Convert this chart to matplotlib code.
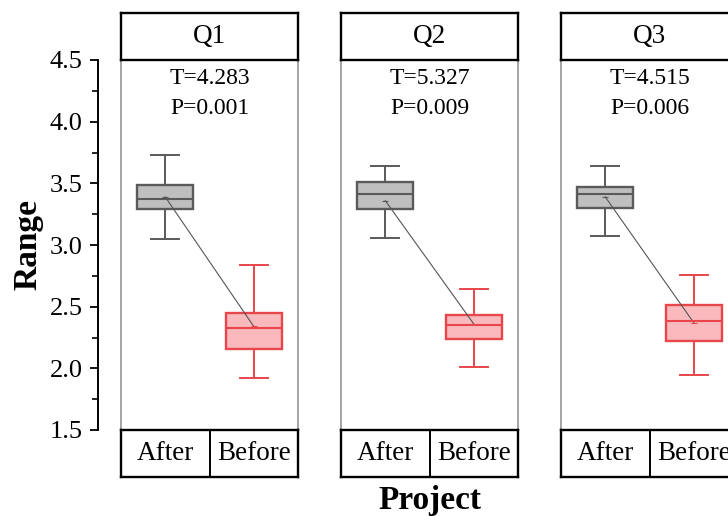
import matplotlib
matplotlib.use("Agg")
import matplotlib.pyplot as plt
from matplotlib.patches import Rectangle
from matplotlib.ticker import MultipleLocator

plt.rcParams['font.family'] = ['Liberation Serif', 'DejaVu Serif']

# data
panels = ["Q1", "Q2", "Q3"]
groups = ["After", "Before"]
t_vals = ["4.283", "5.327", "4.515"]
p_vals = ["0.001", "0.009", "0.006"]

after_lo = [3.05, 3.06, 3.07]
after_q1 = [3.29, 3.29, 3.30]
after_med = [3.37, 3.41, 3.41]
after_q3 = [3.49, 3.51, 3.47]
after_hi = [3.73, 3.64, 3.64]
after_mean = [3.39, 3.36, 3.39]

before_lo = [1.92, 2.01, 1.95]
before_q1 = [2.16, 2.24, 2.22]
before_med = [2.33, 2.35, 2.38]
before_q3 = [2.45, 2.43, 2.51]
before_hi = [2.84, 2.64, 2.76]
before_mean = [2.34, 2.36, 2.37]

W, H = 728, 516
fig = plt.figure(figsize=(W / 100, H / 100), dpi=100)

def fx(px):
    return px / W

def fy(px):
    # pixel from top -> figure fraction from bottom
    return 1 - px / H

grey_edge = "#5a5a5a"
grey_fill = "#bfbfbf"
red_edge = "#e8464b"
red_fill = "#f9b9bd"

for i, name in enumerate(panels):
    left = 121 + 220 * i
    width = 177
    ax = fig.add_axes([fx(left), fy(430), fx(width), (430 - 60) / H])
    ax.set_xlim(-0.5, 1.5)
    ax.set_ylim(1.5, 4.5)
    for s in ax.spines.values():
        s.set_visible(False)
    ax.set_xticks([])
    ax.tick_params(axis='y', left=False, labelleft=False)
    ax.add_patch(Rectangle((0, 0), 1, 1, transform=ax.transAxes, fill=False,
                           edgecolor="#8c8c8c", lw=1.1, clip_on=False))

    stats = [
        dict(whislo=after_lo[i], q1=after_q1[i], med=after_med[i], q3=after_q3[i],
             whishi=after_hi[i], mean=after_mean[i], fliers=[]),
        dict(whislo=before_lo[i], q1=before_q1[i], med=before_med[i], q3=before_q3[i],
             whishi=before_hi[i], mean=before_mean[i], fliers=[]),
    ]
    for j, (st, ec, fc) in enumerate(zip(stats, [grey_edge, red_edge], [grey_fill, red_fill])):
        ax.bxp([st], positions=[j], widths=0.63, patch_artist=True, showmeans=True,
               boxprops=dict(facecolor=fc, edgecolor=ec, lw=1.7),
               medianprops=dict(color=ec, lw=1.5),
               whiskerprops=dict(color=ec, lw=1.4),
               capprops=dict(color=ec, lw=1.4),
               capwidths=0.32,
               meanprops=dict(marker='_', markersize=4, markeredgecolor=ec, markeredgewidth=0.8))
    ax.plot([0, 1], [after_mean[i], before_mean[i]], color="#555555", lw=0.8)

    ax.text(0.5, 0.951, "T=" + t_vals[i], transform=ax.transAxes, ha='center', va='center',
            fontsize=17)
    ax.text(0.5, 0.870, "P=" + p_vals[i], transform=ax.transAxes, ha='center', va='center',
            fontsize=17)

    # header box
    hx = fig.add_axes([fx(left), fy(60), fx(width), (60 - 13) / H])
    hx.set_xticks([])
    hx.set_yticks([])
    for s in hx.spines.values():
        s.set_linewidth(1.7)
        s.set_color("black")
    hx.text(0.5, 0.5, name, ha='center', va='center', fontsize=19.5, transform=hx.transAxes)

    # category box
    cx = fig.add_axes([fx(left), fy(477), fx(width), (477 - 430) / H])
    cx.set_xlim(-0.5, 1.5)
    cx.set_ylim(0, 1)
    cx.set_xticks([])
    cx.set_yticks([])
    for s in cx.spines.values():
        s.set_linewidth(1.7)
        s.set_color("black")
    cx.axvline(0.5, color="black", lw=1.4)
    for j, g in enumerate(groups):
        cx.text(j, 0.5, g, ha='center', va='center', fontsize=19.5)

    if i == 0:
        ax.spines['left'].set_visible(True)
        ax.spines['left'].set_position(('outward', 16.5))
        ax.spines['left'].set_linewidth(1.4)
        ax.yaxis.set_major_locator(MultipleLocator(0.5))
        ax.yaxis.set_minor_locator(MultipleLocator(0.25))
        ax.yaxis.set_major_formatter(matplotlib.ticker.FormatStrFormatter("%.1f"))
        ax.tick_params(axis='y', which='major', left=True, labelleft=True, direction='out',
                       length=6, width=1.3, labelsize=19, pad=5)
        ax.tick_params(axis='y', which='minor', left=True, direction='out', length=4, width=1.2)

fig.text(fx(28), fy(245), "Range", rotation=90, ha='center', va='center',
         fontsize=24, fontweight='bold')
fig.text(fx(430), fy(500), "Project", ha='center', va='center', fontsize=24, fontweight='bold')

fig.savefig("out.png", dpi=100)
